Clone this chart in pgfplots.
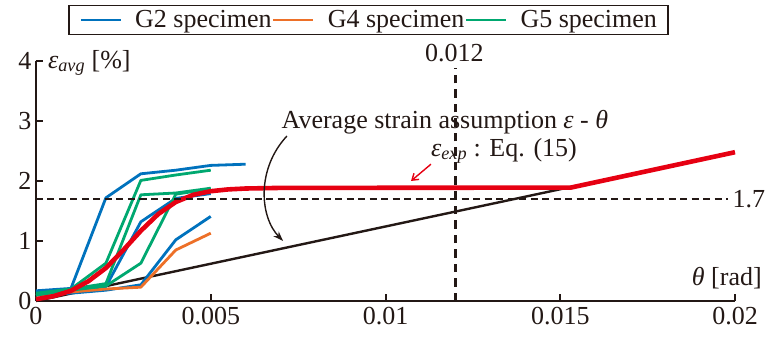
\documentclass[border=0pt]{standalone}
\usepackage{fontspec}
\setmainfont{Liberation Serif}
\usepackage{pgfplots}
\pgfplotsset{compat=1.18}
\usetikzlibrary{arrows.meta}
\definecolor{cB}{RGB}{0,114,189}
\definecolor{cO}{RGB}{237,112,40}
\definecolor{cG}{RGB}{0,168,112}
\definecolor{cR}{RGB}{230,0,18}
\definecolor{cK}{RGB}{35,24,21}
\newcommand\ff{\fontsize{26bp}{31bp}\selectfont}
\begin{document}
\begin{tikzpicture}
\begin{axis}[
  at={(0,0)}, anchor=south west,
  scale only axis, width=699bp, height=240bp,
  xmin=0, xmax=0.02, ymin=0, ymax=4,
  axis x line*=bottom, axis y line*=left,
  axis line style={line width=2bp, draw=cK, -},
  /pgf/number format/assume math mode=true,
  xtick={0,0.005,0.01,0.015,0.02},
  xticklabels={{\ff 0},{\ff 0.005},{\ff 0.01},{\ff 0.015},{\ff 0.02}},
  ytick={0,1,2,3,4},
  yticklabels={{\ff 0},{\ff 1},{\ff 2},{\ff 3},{\ff 4}},
  scaled x ticks=false,
  tick align=inside, major tick length=7bp,
  tick style={line width=2bp, cK},
  tick label style={font=\ff, text=cK},
  xticklabel style={yshift=-3bp},
  yticklabel style={xshift=-1bp},
  clip=false,
  legend columns=3,
  legend style={at={(0.4757,1.171)}, anchor=center, draw=cK, line width=1.6bp,
    font=\ff, inner xsep=11bp, inner ysep=1bp,
    nodes={inner xsep=0pt, inner ysep=4bp, text=cK},
    /tikz/every odd column/.append style={column sep=13bp},
    /tikz/every even column/.append style={column sep=1bp}},
  legend image code/.code={\path (-10bp,0bp) -- (30bp,0bp); \draw[#1, line width=2.8bp] (0bp,0bp) -- (30bp,0bp);},
  every axis plot/.append style={line join=round},
]
% average strain assumption (black)
\addplot[cK, line width=2.4bp, forget plot] coordinates {(0,0) (0.0153,1.9)};
% G2 specimens (blue)
\addplot[cB, line width=2.8bp, forget plot] coordinates {(0,0.17) (0.001,0.21) (0.002,1.72) (0.003,2.12) (0.004,2.18) (0.005,2.26) (0.006,2.28)};
\addplot[cB, line width=2.8bp, forget plot] coordinates {(0,0.15) (0.001,0.19) (0.002,0.24) (0.003,1.32) (0.004,1.71) (0.005,1.79)};
\addplot[cB, line width=2.8bp, forget plot] coordinates {(0,0.1) (0.001,0.13) (0.002,0.18) (0.003,0.27) (0.004,1.02) (0.005,1.41)};
% G4 specimen (orange)
\addplot[cO, line width=2.8bp, forget plot] coordinates {(0,0.1) (0.001,0.15) (0.002,0.2) (0.003,0.23) (0.004,0.85) (0.005,1.13)};
% G5 specimens (green)
\addplot[cG, line width=2.8bp, forget plot] coordinates {(0,0.13) (0.001,0.2) (0.002,0.63) (0.003,2.01) (0.004,2.1) (0.005,2.18)};
\addplot[cG, line width=2.8bp, forget plot] coordinates {(0,0.1) (0.001,0.2) (0.002,0.29) (0.003,1.77) (0.004,1.8) (0.005,1.88)};
\addplot[cG, line width=2.8bp, forget plot] coordinates {(0,0.1) (0.001,0.18) (0.002,0.25) (0.003,0.63) (0.004,1.78) (0.005,1.87)};
% epsilon_exp (red)
\addplot[cR, line width=4.6bp, forget plot] coordinates {(0,0.03) (0.0005,0.08) (0.001,0.17) (0.0015,0.33) (0.002,0.55) (0.0025,0.85) (0.003,1.17) (0.0035,1.45) (0.004,1.65) (0.0045,1.77) (0.005,1.83) (0.0055,1.86) (0.006,1.875) (0.007,1.885) (0.0153,1.89) (0.02,2.48)};
% dashed reference lines
\addplot[cK, line width=2.2bp, dash pattern=on 7bp off 4.5bp, forget plot] coordinates {(0,1.7) (0.0198,1.7)};
\addplot[cK, line width=2.2bp, dash pattern=on 8.5bp off 6bp, forget plot] coordinates {(0.012,0) (0.012,3.88)};
\addlegendimage{cB}
\addlegendentry{\ff G2 specimen}
\addlegendimage{cO}
\addlegendentry{\ff G4 specimen}
\addlegendimage{cG}
\addlegendentry{\ff G5 specimen}
% texts
\node[anchor=west, font=\ff, text=cK, inner sep=0pt] at (axis cs:0.00034,3.97) {{\itshape ε\textsubscript{avg}} [\%]};
\node[anchor=east, font=\ff, text=cK, inner sep=0pt] at (axis cs:0.02077,0.38) {{\itshape θ} [rad]};
\node[anchor=west, font=\ff, text=cK, inner sep=1bp] at (axis cs:0.0199,1.7) {1.7};
\node[font=\ff, text=cK, inner sep=0pt] at (axis cs:0.01197,4.13) {0.012};
\node[font=\ff, text=cK, inner sep=0pt] at (axis cs:0.0117,2.98) {Average strain assumption {\itshape ε} - {\itshape θ}};
\node[font=\ff, text=cK, inner sep=0pt] at (axis cs:0.01339,2.50) {{\itshape ε\textsubscript{exp}} : Eq. (15)};
\draw[-{Stealth[length=10bp,width=7bp]}, cK, line width=1.4bp] (axis cs:0.00718,2.75) .. controls (axis cs:0.0063,2.2) and (axis cs:0.0064,1.4) .. (axis cs:0.00707,1.0);
\draw[-{Straight Barb[length=6bp,width=8bp]}, cR, line width=1.4bp] (axis cs:0.0113,2.28) -- (axis cs:0.01073,2.0);
\end{axis}
\pgfresetboundingbox
\useasboundingbox (-36bp,-37bp) rectangle (729bp,301bp);
\end{tikzpicture}
\end{document}
